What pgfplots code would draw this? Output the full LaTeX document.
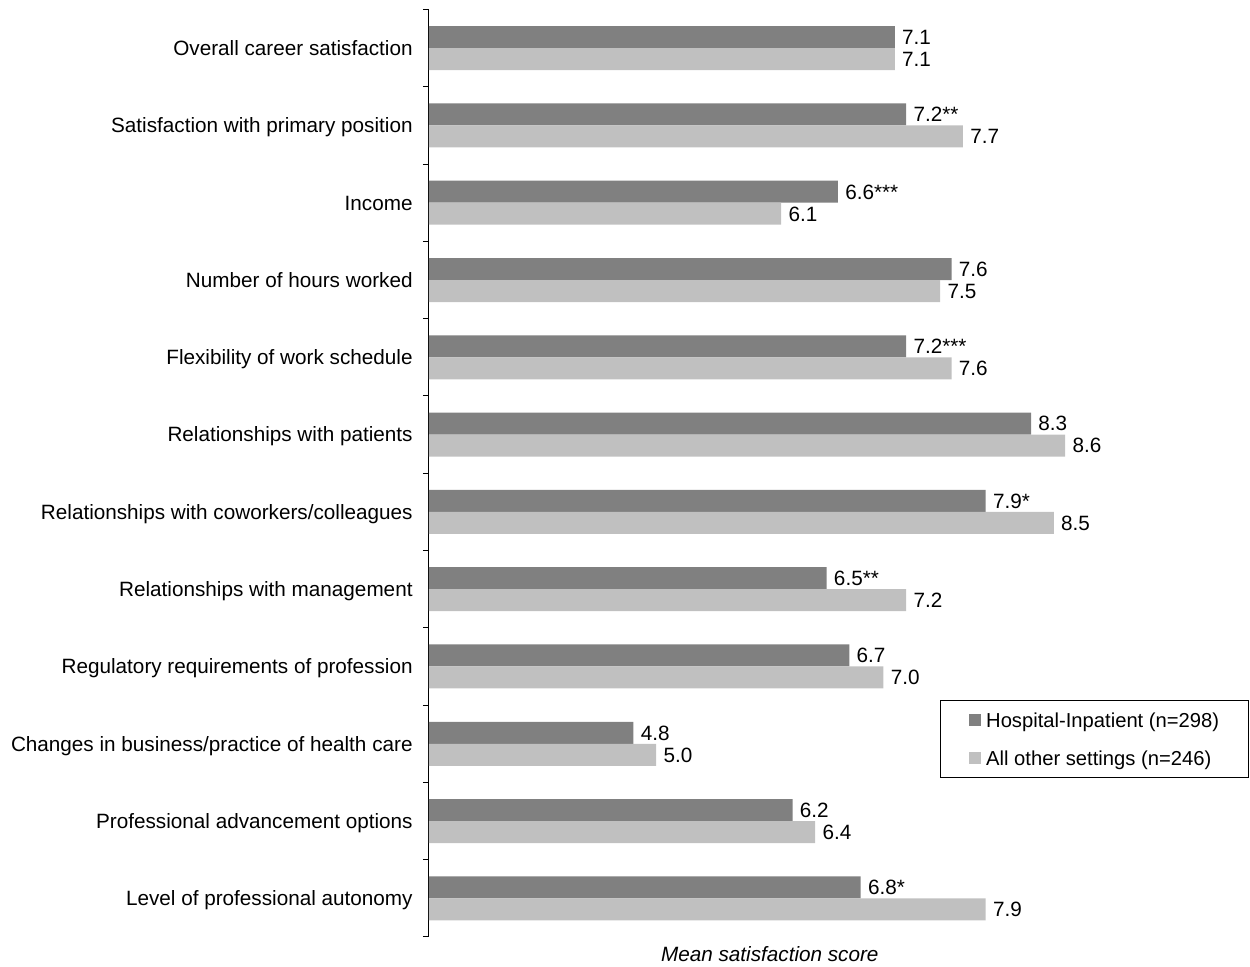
\documentclass[border=0pt]{standalone}
\usepackage{pgfplots}
\pgfplotsset{compat=1.18}
\usepackage{pgfplotstable}
\usepackage{fontspec}
\setmainfont{Liberation Sans}
\definecolor{darkbar}{RGB}{128,128,128}
\definecolor{lightbar}{RGB}{192,192,192}

\pgfplotstableread{
y v lab
11 7.1 7.1
10 7.2 7.2**
9 6.6 6.6***
8 7.6 7.6
7 7.2 7.2***
6 8.3 8.3
5 7.9 7.9*
4 6.5 6.5**
3 6.7 6.7
2 4.8 4.8
1 6.2 6.2
0 6.8 6.8*
}\hosp

\pgfplotstableread{
y v lab
11 7.1 7.1
10 7.7 7.7
9 6.1 6.1
8 7.5 7.5
7 7.6 7.6
6 8.6 8.6
5 8.5 8.5
4 7.2 7.2
3 7.0 7.0
2 5.0 5.0
1 6.4 6.4
0 7.9 7.9
}\other

\begin{document}
\begin{tikzpicture}
\path[use as bounding box] (0,0) rectangle (625pt,-483.5pt);
\begin{axis}[
  at={(214.5pt,-468.5pt)}, anchor=south west,
  scale only axis,
  width=340.8pt, height=463.75pt,
  xmin=3, xmax=9, ymin=-0.5, ymax=11.5,
  axis x line=none,
  axis y line*=left,
  axis line style={black, line width=0.5pt},
  xbar, bar width=11pt,
  ytick={0,...,11},
  yticklabels={
    Level of professional autonomy,
    Professional advancement options,
    Changes in business/practice of health care,
    Regulatory requirements of profession,
    Relationships with management,
    Relationships with coworkers/colleagues,
    Relationships with patients,
    Flexibility of work schedule,
    Number of hours worked,
    Income,
    Satisfaction with primary position,
    Overall career satisfaction},
  minor ytick={-0.5,0.5,...,11.5},
  major tick length=0pt,
  minor tick length=3pt,
  tick align=outside,
  tick style={black, line width=0.5pt},
  yticklabel style={anchor=east, inner sep=0pt, xshift=-8pt, text height=7.4pt, text depth=0pt,
     font=\fontsize{10.35}{12.4}\selectfont},
  nodes near coords,
  point meta=explicit symbolic,
  every node near coord/.append style={anchor=west, inner sep=0pt, xshift=3.5pt,
     text height=7.4pt, text depth=0pt, font=\fontsize{10.35}{12.4}\selectfont, black},
  every axis legend/.append style={
    at={(1.20261,0.25553)}, anchor=north east,
    draw=black, line width=0.5pt, fill=white,
    inner xsep=14.5pt, inner ysep=6pt,
    row sep=11.88pt, column sep=0pt,
    font=\fontsize{10.1}{12}\selectfont,
    nodes={inner sep=0pt, text height=7.37pt, text depth=0pt},
  },
  legend cell align=left,
  legend image code/.code={\draw[#1,draw=none] (0pt,-3pt) rectangle (6pt,3pt);
     \path (8.5pt,0pt);},
]
\addplot[fill=darkbar, draw=none, bar shift=5.5pt] table[x=v, y=y, meta=lab] {\hosp};
\addplot[fill=lightbar, draw=none, bar shift=-5.5pt] table[x=v, y=y, meta=lab] {\other};
\legend{Hospital-Inpatient (n=298), All other settings (n=246)}
\end{axis}
\node[anchor=base, inner sep=0pt, font=\fontsize{10.35}{12.4}\selectfont\itshape]
  at (384.9pt,-480.85pt) {Mean satisfaction score};
\end{tikzpicture}
\end{document}
